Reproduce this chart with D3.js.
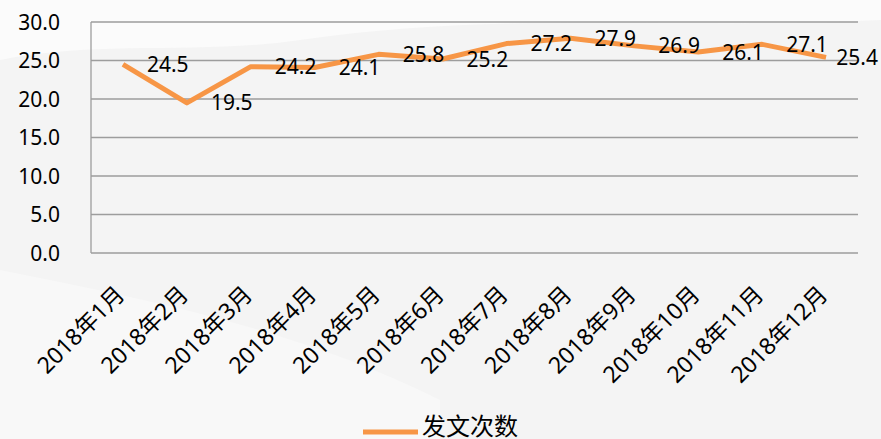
<!DOCTYPE html>
<html>
<head>
<meta charset="utf-8">
<script src="https://cdn.jsdelivr.net/npm/d3@7"></script>
<style>
  html, body { margin: 0; padding: 0; background: #f4f4f4; }
  svg { display: block; }
  text { font-family: "Noto Sans", "Noto Sans CJK SC", sans-serif; fill: #000; }
</style>
</head>
<body>
<div id="chart"></div>
<script>
// Dados do gráfico
const months = ["2018年1月", "2018年2月", "2018年3月", "2018年4月", "2018年5月", "2018年6月",
    "2018年7月", "2018年8月", "2018年9月", "2018年10月", "2018年11月", "2018年12月"];
const postCounts = [24.5, 19.5, 24.2, 24.1, 25.8, 25.2, 27.2, 27.9, 26.9, 26.1, 27.1, 25.4];
const yTicks = [0, 5, 10, 15, 20, 25, 30];
const seriesName = "发文次数";

const width = 881, height = 439;
const margin = { top: 22, right: 23, bottom: 186, left: 91 };

const svg = d3.select("#chart")
    .append("svg")
    .attr("width", width)
    .attr("height", height);

// Fundo com faixas claras
const bg = svg.append("g");
bg.append("rect").attr("width", width).attr("height", height).attr("fill", "#f4f4f4");
bg.append("path")
    .attr("d", "M0,0 L881,0 L881,20 C700,30 500,10 300,40 C200,55 100,40 0,60 Z")
    .attr("fill", "#fbfbfb");
bg.append("path")
    .attr("d", "M0,270 C150,300 300,330 440,400 L440,439 L0,439 Z")
    .attr("fill", "#f8f8f8");

const x = d3.scaleBand()
    .domain(months)
    .range([margin.left, width - margin.right]);

const y = d3.scaleLinear()
    .domain([0, 30])
    .range([height - margin.bottom, margin.top]);

// Linhas de grade
svg.append("g")
    .selectAll("line")
    .data(yTicks)
    .enter().append("line")
    .attr("x1", margin.left)
    .attr("x2", width - margin.right)
    .attr("y1", d => y(d))
    .attr("y2", d => y(d))
    .attr("stroke", "#9d9d9d")
    .attr("stroke-width", 1.3);

// Eixo vertical
svg.append("line")
    .attr("x1", margin.left).attr("x2", margin.left)
    .attr("y1", y(30)).attr("y2", y(0))
    .attr("stroke", "#9d9d9d")
    .attr("stroke-width", 1.3);

// Rótulos do eixo Y
svg.append("g")
    .selectAll("text")
    .data(yTicks)
    .enter().append("text")
    .attr("x", 60)
    .attr("y", d => y(d))
    .attr("dy", "0.36em")
    .attr("text-anchor", "end")
    .attr("font-size", 21)
    .text(d => d.toFixed(1));

// Rótulos do eixo X (rotacionados)
svg.append("g")
    .selectAll("text")
    .data(months)
    .enter().append("text")
    .attr("text-anchor", "end")
    .attr("font-size", 23)
    .attr("transform", d => `translate(${x(d) + x.bandwidth() / 2 + 3},${y(0) + 43}) rotate(-45)`)
    .text(d => d);

// Linha da série
const line = d3.line()
    .x((d, i) => x(months[i]) + x.bandwidth() / 2)
    .y(d => y(d));

svg.append("path")
    .datum(postCounts)
    .attr("fill", "none")
    .attr("stroke", "#f79646")
    .attr("stroke-width", 5)
    .attr("stroke-linejoin", "round")
    .attr("d", line);

// Rótulos de dados
const labels = svg.append("g")
    .selectAll("text")
    .data(postCounts)
    .enter().append("text")
    .attr("x", (d, i) => x(months[i]) + x.bandwidth() / 2 + 24)
    .attr("y", d => y(d))
    .attr("dy", "0.36em")
    .attr("font-size", 21)
    .text(d => d.toFixed(1));

// Ajusta o último rótulo para caber na área
labels.each(function() {
    const el = d3.select(this);
    const w = this.getComputedTextLength();
    const lx = +el.attr("x");
    if (lx + w > width - 3) el.attr("x", width - 3 - w);
});

// Legenda
const legend = svg.append("g");
legend.append("line")
    .attr("x1", 363).attr("x2", 418)
    .attr("y1", 432).attr("y2", 432)
    .attr("stroke", "#f79646")
    .attr("stroke-width", 5);
legend.append("text")
    .attr("x", 422)
    .attr("y", 435)
    .attr("font-size", 24)
    .attr("fill", "#222")
    .text(seriesName);
</script>
</body>
</html>
